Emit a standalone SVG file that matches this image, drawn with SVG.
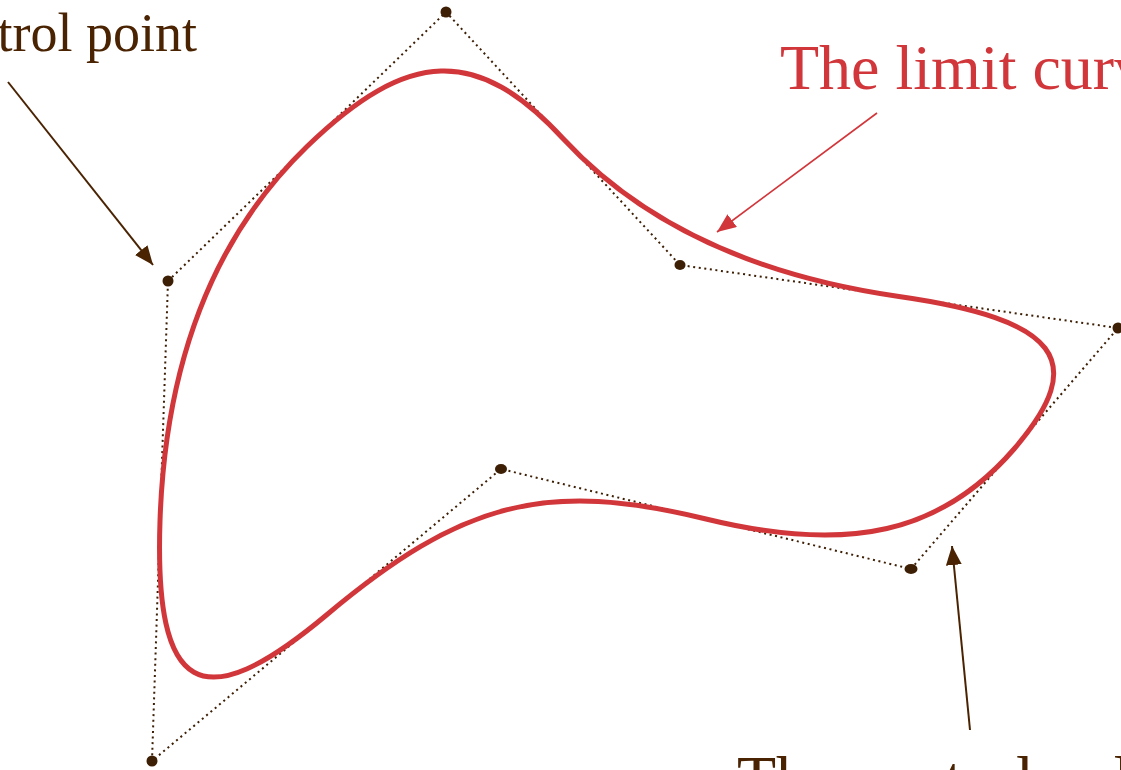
<svg xmlns="http://www.w3.org/2000/svg" width="1121" height="770" viewBox="0 0 1121 770">
<style>
.poly{fill:none;stroke:#3d1f05;stroke-width:2;stroke-dasharray:2 3.6;stroke-linecap:butt}
.pt{fill:#3d1f05}
.curve{fill:none;stroke:#d1363a;stroke-width:5;stroke-linejoin:round}
.lbl{font-family:"Liberation Serif","Times New Roman",serif}
.brown{fill:#4a2302}
.red{fill:#d1363a}
.arr-b{stroke:#4a2302;stroke-width:2;fill:none}
.arr-r{stroke:#d1363a;stroke-width:1.6;fill:none}
</style>
<defs>
<marker id="ahb" markerUnits="userSpaceOnUse" markerWidth="20" markerHeight="16" viewBox="0 0 20 16" refX="19" refY="8" orient="auto"><path d="M0,0 L19,8 L0,16 Z" fill="#4a2302"/></marker>
<marker id="ahr" markerUnits="userSpaceOnUse" markerWidth="20" markerHeight="16" viewBox="0 0 20 16" refX="19" refY="8" orient="auto"><path d="M0,0 L19,8 L0,16 Z" fill="#d1363a"/></marker>
</defs>
<g id="control-polygon">
<path class="poly" d="M168,281 L446,12 L680,265 L1118,328 L911,569 L501,469 L152,761 Z"/>
</g>
<g id="limit-curve">
<path class="curve" d="M307,146.5 C408.5,48.3 477.6,46.2 563,138.5 C641,222.9 752.9,275.5 899,296.5 C1058.9,319.5 1090.1,360.5 1014.5,448.5 C942.05,532.85 849.5,554 706,519 C546.1,480 462.6,501.1 326.5,615 C200.9,720.1 154.2,693.8 160,521 C165.3,360.9 214.3,236.2 307,146.5 Z"/>
</g>
<g id="control-points">
<ellipse class="pt" cx="446" cy="12" rx="5.5" ry="5.5"/>
<ellipse class="pt" cx="680" cy="265" rx="5.5" ry="5"/>
<ellipse class="pt" cx="1118" cy="328" rx="5.5" ry="5.5"/>
<ellipse class="pt" cx="911" cy="569" rx="6.5" ry="5"/>
<ellipse class="pt" cx="501" cy="469" rx="6" ry="5"/>
<ellipse class="pt" cx="152" cy="761" rx="5.5" ry="5.5"/>
<ellipse class="pt" cx="168" cy="281" rx="5.5" ry="5.5"/>
</g>
<g id="connectors">
<line class="arr-b" x1="8" y1="82" x2="153" y2="265" marker-end="url(#ahb)"/>
<line class="arr-r" x1="877" y1="113" x2="717" y2="232" marker-end="url(#ahr)"/>
<line class="arr-b" x1="970" y1="730" x2="952" y2="546" marker-end="url(#ahb)"/>
</g>
<g id="label-control-point">
<text class="lbl brown" x="197" y="51" font-size="54" text-anchor="end">Control point</text>
</g>
<g id="label-limit-curve">
<text class="lbl red" x="780" y="89" font-size="64">The limit curve</text>
</g>
<g id="label-control-polygon">
<text class="lbl brown" x="737" y="800" font-size="64">The control polygon</text>
</g>
</svg>
